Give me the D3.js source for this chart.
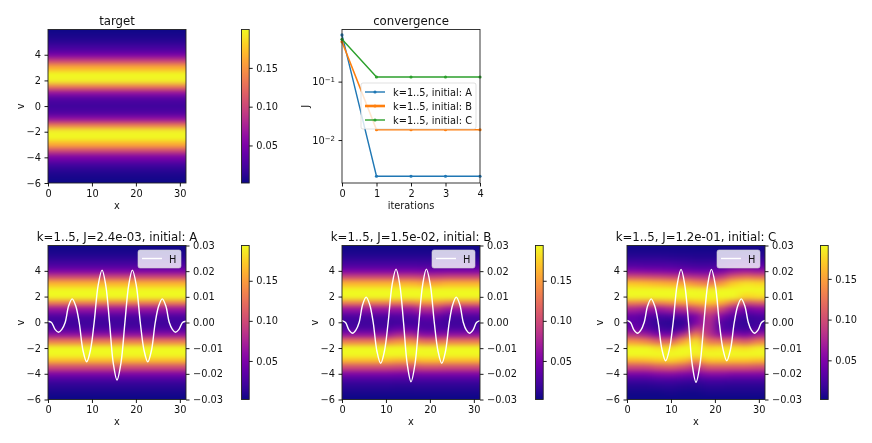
<!DOCTYPE html>
<html>
<head>
<meta charset="utf-8">
<script src="https://cdn.jsdelivr.net/npm/d3@7"></script>
<style>
  html, body { margin: 0; padding: 0; background: #fff; }
  svg { display: block; filter: blur(0.35px); }
  text { font-family: "DejaVu Sans", sans-serif; fill: #111; }
</style>
</head>
<body>
<div id="chart"></div>
<script>
// v position of each heatmap row, top to bottom
var vRows = [6, 5.5, 5, 4.5, 4, 3.5, 3, 2.5, 2, 1.5, 1, 0.5, 0, -0.5, -1, -1.5, -2, -2.5, -3, -3.5, -4, -4.5, -5, -5.5, -6];

// the flat density, same at every x
var targetColumn = [.002, .005, .012, .025, .05, .10, .162, .2, .196, .132, .062, .028, .02, .028, .062, .132, .196, .2, .162, .10, .05, .025, .012, .005, .002];
var heatTarget = [targetColumn];
var heatA = [targetColumn];

var bMid1 = [.002, .005, .012, .025, .05, .10, .162, .2, .196, .132, .062, .03, .022, .04, .08, .145, .197, .197, .155, .095, .048, .024, .011, .005, .002];
var bMid2 = [.002, .005, .012, .024, .048, .095, .155, .197, .197, .145, .08, .042, .026, .028, .058, .125, .192, .2, .165, .102, .05, .025, .012, .005, .002];
var heatB = [targetColumn, targetColumn, targetColumn, targetColumn, bMid1, bMid1, bMid2, bMid2, targetColumn, targetColumn, targetColumn];

var heatC = [
  [.003, .006, .013, .027, .055, .105, .168, .198, .19, .132, .072, .04, .035, .045, .082, .145, .197, .197, .155, .095, .048, .022, .01, .004, .002],
  [.003, .006, .013, .026, .052, .102, .165, .198, .19, .128, .062, .03, .025, .035, .072, .135, .192, .198, .158, .095, .048, .022, .01, .004, .002],
  [.003, .006, .013, .026, .05, .098, .16, .198, .195, .132, .062, .025, .015, .022, .052, .115, .182, .198, .167, .105, .054, .025, .011, .004, .002],
  [.003, .006, .012, .025, .048, .093, .155, .196, .198, .142, .072, .028, .012, .018, .047, .115, .182, .2, .172, .11, .056, .026, .012, .005, .002],
  [.003, .005, .011, .022, .045, .09, .152, .196, .198, .148, .078, .032, .015, .03, .085, .152, .195, .198, .16, .10, .05, .023, .01, .004, .002],
  [.002, .005, .01, .02, .04, .083, .14, .19, .198, .158, .095, .048, .05, .09, .142, .185, .198, .185, .135, .082, .045, .02, .009, .004, .002],
  [.002, .005, .01, .02, .04, .078, .13, .187, .2, .168, .115, .088, .08, .078, .085, .128, .178, .197, .165, .105, .056, .026, .012, .005, .002],
  [.002, .005, .01, .022, .045, .088, .145, .192, .2, .158, .095, .052, .03, .03, .058, .122, .182, .2, .166, .105, .056, .026, .012, .005, .002],
  [.003, .006, .014, .03, .062, .115, .172, .2, .19, .128, .062, .03, .02, .025, .058, .122, .182, .2, .165, .104, .052, .024, .011, .005, .002],
  [.003, .007, .016, .033, .068, .125, .182, .2, .175, .10, .042, .02, .015, .02, .047, .11, .178, .2, .165, .104, .052, .024, .011, .005, .002],
  [.003, .007, .015, .03, .062, .12, .177, .2, .18, .11, .052, .025, .02, .03, .068, .132, .188, .2, .16, .10, .052, .024, .011, .005, .002]
];

var hX = [0, .8, 1.6, 2.4, 3.15, 3.9, 4.7, 5.5, 6.3, 7.1, 7.95, 8.8, 9.65, 10.5, 11.4, 12.3, 13.15, 14, 14.85, 15.7, 16.6, 17.5, 18.35, 19.2, 20.1, 21, 21.85, 22.7, 23.55, 24.4, 25.2, 26, 26.8, 27.6, 28.3, 29, 29.8, 30.6, 31.4];
var hA = [.0005, 0, -.0027, -.0038, -.0027, 0, .0065, .0092, .0065, 0, -.0108, -.0153, -.0108, 0, .0144, .0204, .0144, 0, -.0158, -.0224, -.0158, 0, .0144, .0204, .0144, 0, -.0108, -.0153, -.0108, 0, .0065, .0092, .0065, 0, -.0027, -.0038, -.0027, 0, .0005];
var hB = [.0007, 0, -.003, -.0042, -.003, 0, .007, .0099, .007, 0, -.0112, -.0159, -.0112, 0, .0147, .0208, .0147, 0, -.0163, -.0231, -.0163, 0, .0147, .0208, .0147, 0, -.0112, -.0159, -.0112, 0, .007, .0099, .007, 0, -.003, -.0042, -.003, 0, .0007];
var hC = [.0008, 0, -.003, -.0042, -.003, 0, .0065, .0092, .0065, 0, -.0105, -.0149, -.0105, 0, .0146, .0207, .0146, 0, -.0165, -.0233, -.0165, 0, .0146, .0207, .0146, 0, -.0105, -.0149, -.0105, 0, .0065, .0092, .0065, 0, -.003, -.0042, -.003, 0, .0008];

// convergence plot
var iterations = [0, 1, 2, 3, 4];
var jA = [.63, .0024, .0024, .0024, .0024];
var jB = [.48, .015, .015, .015, .015];
var jC = [.53, .12, .12, .12, .12];
var convNames = ["k=1..5, initial: A", "k=1..5, initial: B", "k=1..5, initial: C"];
var convColors = ["#1f77b4", "#ff7f0e", "#2ca02c"];
var convWidths = [1.4, 1.6, 1.4];
var handleWidths = [1.4, 2.6, 1.4];

var xTicks = [0, 10, 20, 30];
var vTicks = [-6, -4, -2, 0, 2, 4];
var hTicks = [-.03, -.02, -.01, 0, .01, .02, .03];
var cbarTicks = [.05, .10, .15];

var width = 872, height = 443;
var svg = d3.select("#chart").append("svg").attr("width", width).attr("height", height);
var defs = svg.append("defs");

defs.append("filter").attr("id", "soften")
    .attr("filterUnits", "userSpaceOnUse")
    .attr("x", 0).attr("y", 0).attr("width", width).attr("height", height)
    .attr("color-interpolation-filters", "sRGB")
  .append("feGaussianBlur").attr("stdDeviation", "5 2.5");

var fmt2 = d3.format(".2f");

function axisStyle(g) {
    g.selectAll("text").style("font-size", "9.8px");
    g.selectAll("line").attr("stroke-width", 0.9);
    g.select(".domain").remove();
}

function spines(g, w, h) {
    g.append("rect").attr("width", w).attr("height", h)
        .attr("fill", "none").attr("stroke", "#222").attr("stroke-width", 0.9);
}

function label(g, x, y, str, size, rotate) {
    g.append("text")
        .attr("text-anchor", "middle")
        .attr("transform", "translate(" + x + "," + y + ")" + (rotate ? " rotate(-90)" : ""))
        .style("font-size", size + "px")
        .text(str);
}

function drawHeat(opts) {
    var w = 138, h = opts.h;
    var g = svg.append("g").attr("transform", "translate(" + opts.left + "," + opts.top + ")");
    var x = d3.scaleLinear().domain([0, 31.4]).range([0, w]);
    var y = d3.scaleLinear().domain([-6, 5.97]).range([h, 0]);
    var color = d3.scaleSequential(d3.interpolatePlasma).domain(opts.range);
    var colScale = d3.scaleBand().domain(d3.range(opts.heat.length)).range([0, w]);

    var clipId = "clip" + opts.left + "_" + opts.top;
    defs.append("clipPath").attr("id", clipId).append("rect").attr("width", w).attr("height", h);

    var heat = g.append("g").attr("clip-path", "url(#" + clipId + ")")
        .append("g").attr("filter", "url(#soften)");
    var columns = heat.selectAll("g").data(opts.heat).enter().append("g");
    columns.selectAll("rect")
        .data(function(d, i) {
            return d.map(function(val, j) { return { col: i, row: j, val: val }; });
        })
        .enter().append("rect")
        .attr("x", function(d) { return d.col === 0 ? -20 : colScale(d.col); })
        .attr("width", function(d) {
            var extra = (d.col === 0 ? 20 : 0) + (d.col === opts.heat.length - 1 ? 20 : 0);
            return colScale.bandwidth() + extra + 0.5;
        })
        .attr("y", function(d) { return d.row === 0 ? -20 : y(vRows[d.row] + 0.25); })
        .attr("height", function(d) {
            var base = y(vRows[d.row] - 0.25) - y(vRows[d.row] + 0.25);
            return base + ((d.row === 0 || d.row === vRows.length - 1) ? 20 : 0) + 0.5;
        })
        .attr("fill", function(d) { return color(d.val); })
        .attr("shape-rendering", "crispEdges");

    if (opts.curve) {
        var right = d3.scaleLinear().domain([-.03, .03]).range([h, 0]);
        var line = d3.line()
            .x(function(d, i) { return x(hX[i]); })
            .y(function(d) { return right(d); })
            .curve(d3.curveCatmullRom);
        g.append("path").datum(opts.curve).attr("d", line)
            .attr("fill", "none").attr("stroke", "#fff").attr("stroke-width", 1.4);

        g.append("g").attr("transform", "translate(" + w + ",0)")
            .call(d3.axisRight(right).tickValues(hTicks).tickSize(3.5).tickPadding(3.5).tickFormat(fmt2))
            .call(axisStyle);

        // legend
        var lg = g.append("g").attr("transform", "translate(90,4.5)");
        lg.append("rect").attr("width", 43).attr("height", 18).attr("rx", 2)
            .attr("fill", "#fff").attr("fill-opacity", 0.8).attr("stroke", "#ccc").attr("stroke-width", 0.6);
        lg.append("line").attr("x1", 4).attr("x2", 24).attr("y1", 8.5).attr("y2", 8.5)
            .attr("stroke", "#fff").attr("stroke-width", 1.4);
        lg.append("text").attr("x", 31).attr("y", 12.5).style("font-size", "9.8px").text("H");
    }

    spines(g, w, h);
    g.append("g").attr("transform", "translate(0," + h + ")")
        .call(d3.axisBottom(x).tickValues(xTicks).tickSize(3.5).tickPadding(3.5))
        .call(axisStyle);
    g.append("g")
        .call(d3.axisLeft(y).tickValues(vTicks).tickSize(3.5).tickPadding(3.5))
        .call(axisStyle);

    label(g, w / 2, -4.5, opts.title, 11.75);
    label(g, w / 2, h + 25.5, "x", 9.8);
    label(g, -24, h / 2, "v", 9.8, true);

    // colorbar
    var cb = svg.append("g").attr("transform", "translate(" + opts.cbarLeft + "," + opts.top + ")");
    var cy = d3.scaleLinear().domain(opts.range).range([h, 0]);
    var gradId = "grad" + opts.cbarLeft + "_" + opts.top;
    var grad = defs.append("linearGradient").attr("id", gradId)
        .attr("x1", 0).attr("x2", 0).attr("y1", 1).attr("y2", 0);
    d3.range(0, 1.001, 0.05).forEach(function(t) {
        grad.append("stop").attr("offset", t).attr("stop-color", d3.interpolatePlasma(t));
    });
    cb.append("rect").attr("width", 7.7).attr("height", h).attr("fill", "url(#" + gradId + ")");
    spines(cb, 7.7, h);
    cb.append("g").attr("transform", "translate(7.7,0)")
        .call(d3.axisRight(cy).tickValues(cbarTicks).tickSize(3.5).tickPadding(3.5).tickFormat(fmt2))
        .call(axisStyle);
}

function drawConvergence() {
    var w = 138, h = 153.5;
    var g = svg.append("g").attr("transform", "translate(342,29.5)");
    var x = d3.scaleLinear().domain([0, 4]).range([0, w]);
    var y = d3.scaleLog().domain([.00184, .78]).range([h, 0]);
    var series = [jA, jB, jC];
    var line = d3.line().x(function(d, i) { return x(iterations[i]); }).y(function(d) { return y(d); });

    series.forEach(function(vals, i) {
        var s = g.append("g");
        s.append("path").datum(vals).attr("d", line)
            .attr("fill", "none").attr("stroke", convColors[i]).attr("stroke-width", convWidths[i]);
        s.selectAll("circle").data(vals).enter().append("circle")
            .attr("cx", function(d, k) { return x(iterations[k]); })
            .attr("cy", function(d) { return y(d); })
            .attr("r", 1.6).attr("fill", convColors[i]);
    });

    spines(g, w, h);
    g.append("g").attr("transform", "translate(0," + h + ")")
        .call(d3.axisBottom(x).tickValues(iterations).tickSize(3.5).tickPadding(3.5).tickFormat(d3.format("d")))
        .call(axisStyle);

    var yAxis = g.append("g")
        .call(d3.axisLeft(y).tickValues([.1, .01]).tickSize(3.5).tickPadding(3.5).tickFormat(""))
        .call(axisStyle);
    yAxis.selectAll(".tick text").each(function(d) {
        var t = d3.select(this);
        t.text("10");
        t.append("tspan").attr("dy", "-0.45em").style("font-size", "7px").text(d === .1 ? "\u22121" : "\u22122");
    });

    // legend sits over the lines
    var lg = g.append("g").attr("transform", "translate(19,53.5)");
    lg.append("rect").attr("width", 115).attr("height", 46).attr("rx", 2)
        .attr("fill", "#fff").attr("fill-opacity", 0.8).attr("stroke", "#ccc").attr("stroke-width", 0.6);
    convNames.forEach(function(name, i) {
        var ly = 9 + i * 14;
        lg.append("line").attr("x1", 4).attr("x2", 24).attr("y1", ly).attr("y2", ly)
            .attr("stroke", convColors[i]).attr("stroke-width", handleWidths[i]);
        lg.append("circle").attr("cx", 14).attr("cy", ly).attr("r", 1.6).attr("fill", convColors[i]);
        lg.append("text").attr("x", 32).attr("y", ly + 3.5).style("font-size", "9.8px").text(name);
    });

    label(g, w / 2, -4.5, "convergence", 11.75);
    label(g, w / 2, h + 25.5, "iterations", 9.8);
    label(g, -33, h / 2, "J", 9.8, true);
}

drawHeat({ left: 48, top: 29.5, h: 153.5, heat: heatTarget, range: [.0016, .1995], title: "target", cbarLeft: 241.5 });
drawConvergence();
drawHeat({ left: 48, top: 245.5, h: 154, heat: heatA, range: [.0019, .194], curve: hA, title: "k=1..5, J=2.4e-03, initial: A", cbarLeft: 241.5 });
drawHeat({ left: 342, top: 245.5, h: 154, heat: heatB, range: [.0019, .194], curve: hB, title: "k=1..5, J=1.5e-02, initial: B", cbarLeft: 535.5 });
drawHeat({ left: 627, top: 245.5, h: 154, heat: heatC, range: [.0019, .191], curve: hC, title: "k=1..5, J=1.2e-01, initial: C", cbarLeft: 820.5 });
</script>
</body>
</html>
